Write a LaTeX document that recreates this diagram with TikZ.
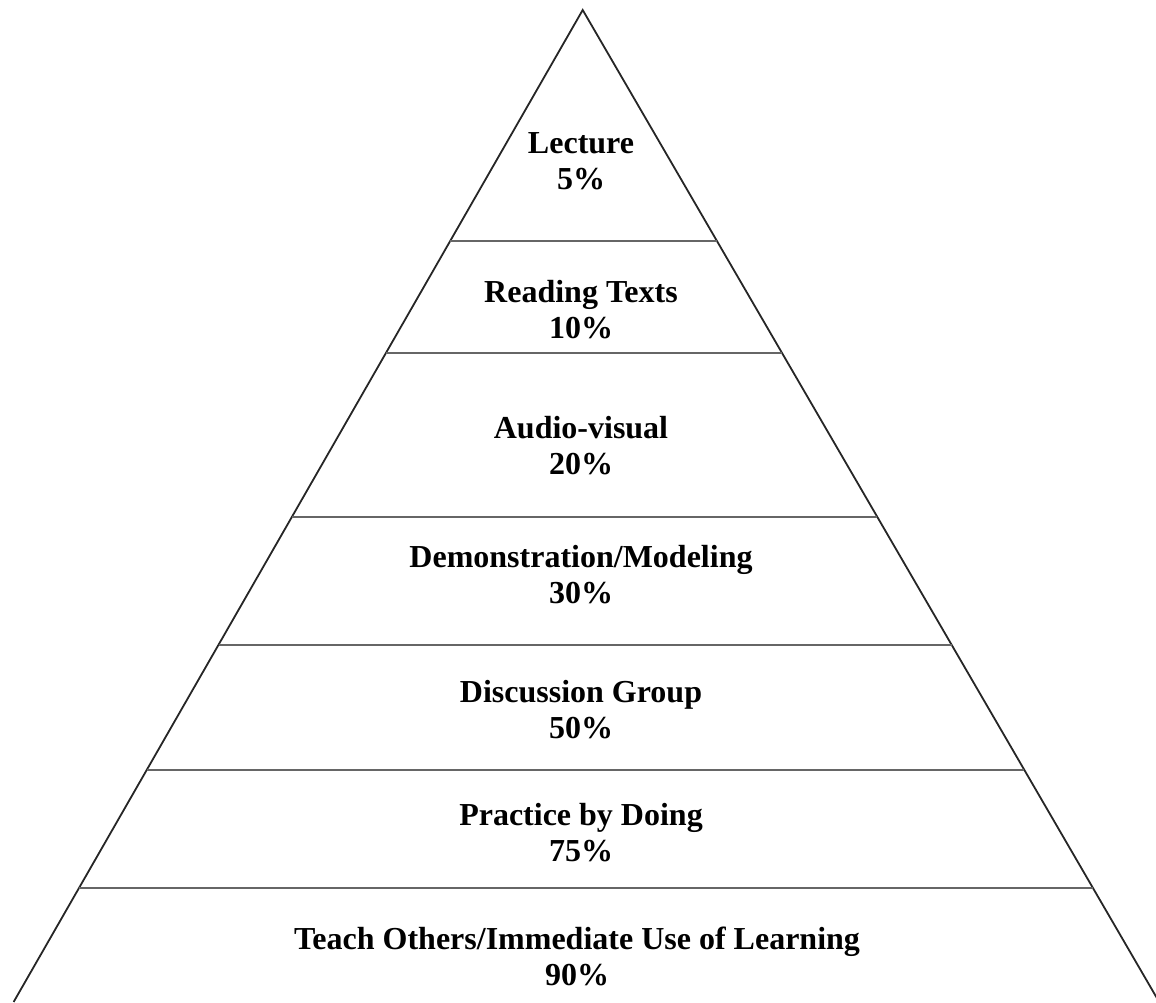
\documentclass[tikz,border=0pt]{standalone}
\usepackage{fontspec}
\setmainfont{Liberation Serif}
\begin{document}
\begin{tikzpicture}[x=0.5pt,y=-0.5pt,
  edge/.style={line width=0.9pt,draw=black!85},
  tier/.style={line width=1.4pt,draw=black!60},
  lbl/.style={font=\fontsize{16}{18}\selectfont\bfseries,align=center,anchor=base,inner sep=0pt}]
\useasboundingbox (0,0) rectangle (1156,1002);
\coordinate (apex) at (582.7,10);
\coordinate (bl) at (13.6,1002);
\coordinate (br) at (1159.2,1002);
\draw[edge] (bl) -- (apex) -- (br);
\foreach \yy in {241,353,517,645,770,888}{
  \pgfmathsetmacro{\xl}{582.7-0.5734*(\yy-10)}
  \pgfmathsetmacro{\xr}{582.7+0.581*(\yy-10)}
  \draw[tier] (\xl,\yy) -- (\xr,\yy);
}
\node[lbl] (l1) at (581,189) {Lecture\\5\%};
\node[lbl] (l2) at (581,338) {Reading Texts\\10\%};
\node[lbl] (l3) at (581,474) {Audio-visual\\20\%};
\node[lbl] (l4) at (581,603) {Demonstration/Modeling\\30\%};
\node[lbl] (l5) at (581,738) {Discussion Group\\50\%};
\node[lbl] (l6) at (581,861) {Practice by Doing\\75\%};
\node[lbl] (l7) at (577,985) {Teach Others/Immediate Use of Learning\\90\%};
\end{tikzpicture}
\end{document}
